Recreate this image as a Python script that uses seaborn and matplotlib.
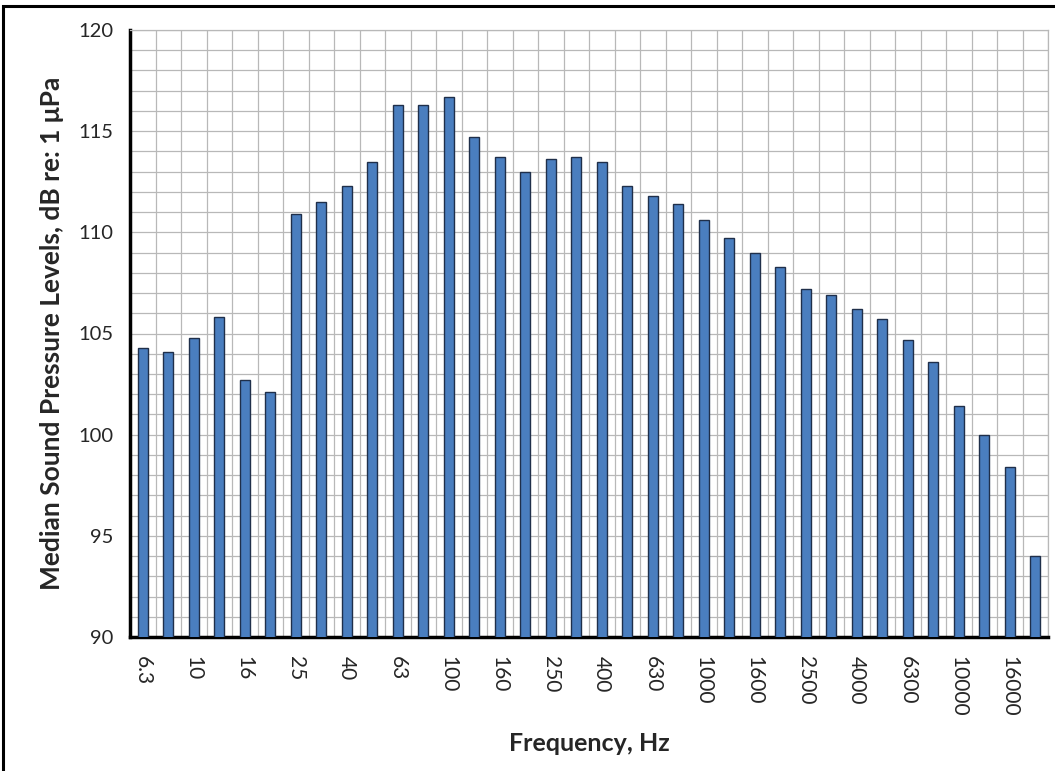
import numpy as np
import pandas as pd
import matplotlib
matplotlib.use("Agg")
import matplotlib.pyplot as plt
from matplotlib.ticker import MultipleLocator, FixedLocator
from matplotlib.patches import Rectangle
import seaborn as sns

# ---- data ----
freq_labels = ["6.3", "8", "10", "12.5", "16", "20", "25", "31.5", "40", "50",
               "63", "80", "100", "125", "160", "200", "250", "315", "400", "500",
               "630", "800", "1000", "1250", "1600", "2000", "2500", "3150", "4000", "5000",
               "6300", "8000", "10000", "12500", "16000", "20000"]
spl_values = [104.3, 104.1, 104.8, 105.8, 102.7, 102.1, 110.9, 111.5, 112.3, 113.5,
              116.3, 116.3, 116.7, 114.7, 113.7, 113.0, 113.6, 113.7, 113.5, 112.3,
              111.8, 111.4, 110.6, 109.7, 109.0, 108.3, 107.2, 106.9, 106.2, 105.7,
              104.7, 103.6, 101.4, 100.0, 98.4, 94.0]
y_ticks = [90, 95, 100, 105, 110, 115, 120]
x_title = "Frequency, Hz"
y_title = "Median Sound Pressure Levels, dB re: 1 \u03bcPa"

df = pd.DataFrame({"freq": freq_labels, "spl": spl_values})

sns.set_theme(style="white")
plt.rcParams["font.family"] = ["Lato", "DejaVu Sans"]

fig = plt.figure(figsize=(10.55, 7.71), dpi=100)
ax = fig.add_axes([130 / 1055, 1 - 637 / 771, (1048 - 130) / 1055, (637 - 30) / 771])

sns.barplot(data=df, x="freq", y="spl", order=freq_labels, ax=ax,
            color="#4a7ebf", saturation=1, width=0.4,
            edgecolor="#1f2f4a", linewidth=1.0, zorder=3)

ax.set_ylim(90, 120)
ax.set_xlim(-0.5, len(freq_labels) - 0.5)
ax.set_yticks(y_ticks)
ax.set_yticklabels([str(t) for t in y_ticks], fontsize=14.5)
ax.yaxis.set_minor_locator(MultipleLocator(1))

ax.set_xticks(range(len(freq_labels)))
ax.set_xticklabels([l if i % 2 == 0 else "" for i, l in enumerate(freq_labels)],
                   rotation=-90, fontsize=15, va="top", ha="center")
ax.xaxis.set_minor_locator(FixedLocator(np.arange(-0.5, len(freq_labels), 1)))

ax.tick_params(axis="both", which="both", length=0)
ax.tick_params(axis="x", pad=14)
ax.tick_params(axis="y", pad=12)

ax.grid(False)
ax.grid(True, axis="y", which="both", color="#b8b8b8", linewidth=0.9, zorder=0)
ax.grid(True, axis="x", which="minor", color="#b8b8b8", linewidth=0.9, zorder=0)
ax.set_axisbelow(True)

for s in ["top", "right"]:
    ax.spines[s].set_color("#b8b8b8")
    ax.spines[s].set_linewidth(0.9)
for s in ["left", "bottom"]:
    ax.spines[s].set_color("black")
    ax.spines[s].set_linewidth(2.5)

ax.set_xlabel(x_title, fontsize=18, fontweight="bold", labelpad=11)
ax.set_ylabel(y_title, fontsize=19, fontweight="bold", labelpad=10)

# outer frame (clipped at right/bottom like the reference crop)
fig.patches.append(Rectangle((3 / 1055, -0.2), 1.5, 1 - 6 / 771 + 0.2,
                             transform=fig.transFigure, fill=False,
                             edgecolor="black", linewidth=2.2))

fig.savefig("out.png", dpi=100)
